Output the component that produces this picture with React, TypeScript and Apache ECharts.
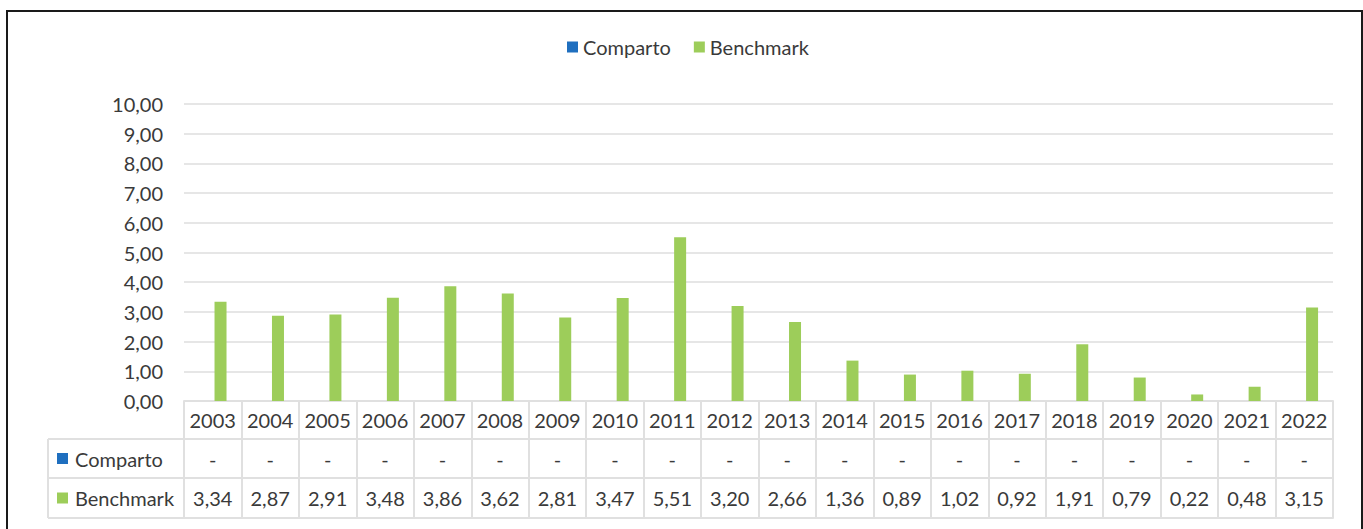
import React, { useEffect, useRef } from "react";
import * as echarts from "echarts";

const years = ["2003","2004","2005","2006","2007","2008","2009","2010","2011","2012","2013","2014","2015","2016","2017","2018","2019","2020","2021","2022"];
const comparto: (number | null)[] = [null,null,null,null,null,null,null,null,null,null,null,null,null,null,null,null,null,null,null,null];
const benchmark = [3.34,2.87,2.91,3.48,3.86,3.62,2.81,3.47,5.51,3.20,2.66,1.36,0.89,1.02,0.92,1.91,0.79,0.22,0.48,3.15];
const yTicks = { min: 0, max: 10, interval: 1 };

const FONT = "Lato";
const TXT = "#3a3a3a";
const BLUE = "#1f6fbf";
const GREEN = "#9dcd5a";
const TBL = "#e0e0e0";

const fmt = (v: number | null) => (v === null ? "-" : v.toFixed(2).replace(".", ","));

export default function App() {
  const ref = useRef<HTMLDivElement>(null);
  useEffect(() => {
    if (!ref.current) return;
    const chart = echarts.init(ref.current, null, { renderer: "svg" });
    const W = 1363, H = 529;
    const gl = 184, gr = 1333, gt = 104, gb = 401;
    const r1 = 38, r2 = 39, r3 = 40;
    const y1 = gb + r1, y2 = y1 + r2, y3 = y2 + r3;
    const tl = 48;
    const fs = 20;
    const mkAxis = (data: string[], offset: number, tick: number, margin: number, showLabel = true) => ({
      type: "category",
      data,
      gridIndex: 0,
      position: "bottom",
      offset,
      axisLine: { show: true, lineStyle: { color: TBL, width: 2 } },
      axisTick: { show: tick > 0, interval: 0, length: tick, lineStyle: { color: TBL, width: 2 } },
      axisLabel: { show: showLabel, interval: 0, margin, verticalAlign: "middle", fontFamily: FONT, fontSize: fs, color: TXT },
      splitLine: { show: false },
    });
    chart.setOption({
      animation: false,
      backgroundColor: "#fff",
      legend: {
        top: 32,
        left: 562,
        itemWidth: 11,
        itemHeight: 11,
        itemGap: 23,
        icon: "rect",
        textStyle: { fontFamily: FONT, fontSize: fs, color: TXT },
        data: ["Comparto", "Benchmark"],
      },
      grid: { left: gl, right: W - gr, top: gt, bottom: H - gb, containLabel: false },
      xAxis: [
        mkAxis(years, 0, r1, r1 / 2),
        mkAxis(comparto.map(fmt), r1, r2, r2 / 2),
        mkAxis(benchmark.map(fmt), r1 + r2, r3, r3 / 2),
        mkAxis(years, r1 + r2 + r3, 0, 0, false),
      ],
      yAxis: {
        type: "value",
        min: yTicks.min,
        max: yTicks.max,
        interval: yTicks.interval,
        axisLine: { show: false },
        axisTick: { show: false },
        axisLabel: { margin: 21, fontFamily: FONT, fontSize: fs, color: TXT, formatter: (v: number) => fmt(v) },
        splitLine: { lineStyle: { color: "#e6e6e6", width: 2 } },
      },
      series: [
        { name: "Comparto", type: "bar", data: comparto, barWidth: 12, barGap: "30%", itemStyle: { color: BLUE } },
        { name: "Benchmark", type: "bar", data: benchmark, barWidth: 12, barGap: "30%", itemStyle: { color: GREEN } },
      ],
      graphic: [
        { type: "rect", silent: true, shape: { x: 7, y: 11, width: 1355, height: 700 }, style: { fill: "none", stroke: "#1a1a1a", lineWidth: 2 } },
        { type: "line", shape: { x1: tl, y1: y1, x2: gl, y2: y1 }, style: { stroke: TBL, lineWidth: 2 } },
        { type: "line", shape: { x1: tl, y1: y2, x2: gl, y2: y2 }, style: { stroke: TBL, lineWidth: 2 } },
        { type: "line", shape: { x1: tl, y1: y3, x2: gl, y2: y3 }, style: { stroke: TBL, lineWidth: 2 } },
        { type: "line", shape: { x1: tl, y1: y1, x2: tl, y2: y3 }, style: { stroke: TBL, lineWidth: 2 } },
        { type: "rect", shape: { x: 57, y: (y1 + y2) / 2 - 5.5, width: 11, height: 11 }, style: { fill: BLUE } },
        { type: "text", x: 75, y: (y1 + y2) / 2, style: { text: "Comparto", fontFamily: FONT, fontSize: fs, fill: TXT, verticalAlign: "middle" } },
        { type: "rect", shape: { x: 57, y: (y2 + y3) / 2 - 5.5, width: 11, height: 11 }, style: { fill: GREEN } },
        { type: "text", x: 75, y: (y2 + y3) / 2, style: { text: "Benchmark", fontFamily: FONT, fontSize: fs, fill: TXT, verticalAlign: "middle" } },
      ],
    });
    return () => chart.dispose();
  }, []);
  return <div ref={ref} style={{ position: "fixed", left: 0, top: 0, width: 1363, height: 529 }} />;
}
